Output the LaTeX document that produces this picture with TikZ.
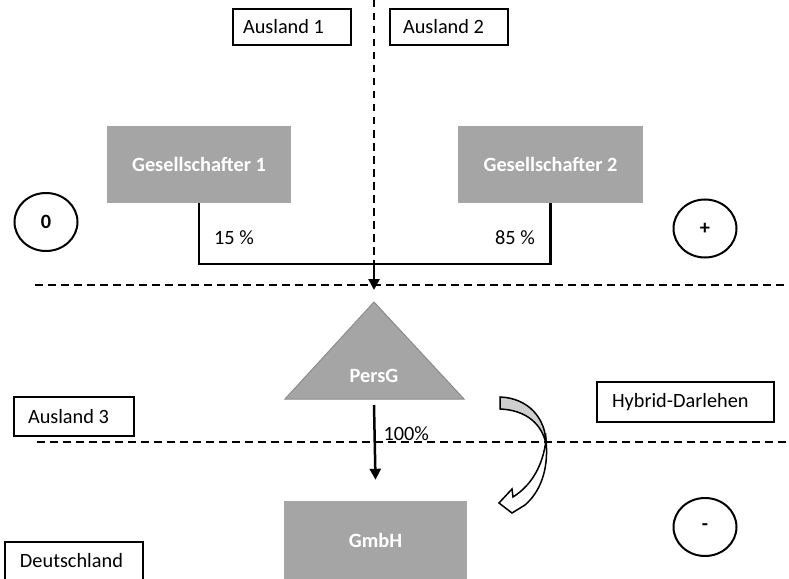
\documentclass[tikz,border=0pt]{standalone}
\usepackage{fontspec}
\setmainfont{Carlito}
\usetikzlibrary{arrows.meta,shapes.geometric}
\definecolor{boxgray}{HTML}{A5A5A5}
\definecolor{tribord}{HTML}{8C8C8C}
\definecolor{arrowgray}{HTML}{CFCFCF}
\begin{document}
\begin{tikzpicture}[x=1bp,y=-1bp,
  txt/.style={font=\fontsize{20.3bp}{24bp}\selectfont},
  labelbox/.style={txt,draw=black,line width=1.2bp,fill=white,inner ysep=0,inner xsep=13bp,minimum height=36bp},
  entity/.style={fill=boxgray,text=white,font=\fontsize{20.3bp}{24bp}\selectfont\bfseries,inner sep=0},
  zone/.style={ellipse,draw=black,line width=2bp,minimum width=63bp,minimum height=58bp,inner sep=0,font=\fontsize{20.3bp}{24bp}\selectfont\bfseries},
  divider/.style={line width=2bp,dash pattern=on 7.5bp off 5.5bp},
  link/.style={line width=2.5bp},
  tip/.style={-{Triangle[length=11bp,width=11bp]}}
]
\clip (0,0) rectangle (789,579);
\fill[white] (0,0) rectangle (789,579);

% dividers
\coordinate (vtop) at (374,0);
\coordinate (j) at (374,264);
\coordinate (hl1) at (35,285);
\coordinate (hr1) at (789,285);
\coordinate (hl2) at (37,442);
\coordinate (hr2) at (789,442);
\draw[divider] (vtop) -- (j);
\draw[divider] (hl1) -- (hr1);
\draw[divider] (hl2) -- (hr2);

% country labels
\node[labelbox,inner xsep=10bp] (a1) at (292,27) {\makebox[98bp][l]{Ausland 1}};
\node[labelbox] (a2) at (449,27) {\makebox[92bp][l]{Ausland 2}};
\node[labelbox,inner xsep=14bp,minimum height=39bp] (a3) at (74,416.5) {\makebox[92bp][l]{Ausland 3}};
\node[labelbox,inner xsep=15bp,minimum height=40bp] (hd) at (685.5,402) {\makebox[147bp][l]{Hybrid-Darlehen}};
\node[labelbox,inner xsep=15bp,minimum height=44bp] (de) at (74,564) {\raisebox{7bp}{\makebox[108bp][l]{Deutschland}}};

% entities
\node[entity,minimum width=184bp,minimum height=77bp] (g1) at (199,164.5) {Gesellschafter 1};
\node[entity,minimum width=185bp,minimum height=77bp] (g2) at (550.5,164.5) {Gesellschafter 2};
\node[entity,minimum width=183bp,minimum height=78bp] (gmbh) at (375.5,540) {GmbH};

% PersG triangle
\coordinate (tapex) at (374,302);
\coordinate (tbl) at (285,399);
\coordinate (tbr) at (464,399);
\coordinate (tbase) at (374,399);
\fill[boxgray,draw=tribord,line width=1bp] (tapex) -- (tbr) -- (tbl) -- cycle;
\node[entity,fill=none] (persg) at (374,376) {PersG};

% zones
\node[zone] (z0) at (46,222) {0};
\node[zone] (zp) at (705,228.5) {+};
\node[zone] (zm) at (705,527) {-};

% ownership links
\draw[link] (g1.south) |- (j) -| (g2.south);
\draw[link,tip] (j) -- ([yshift=12bp]tapex);
\node[txt] (p15) at (234,238) {15 \%};
\node[txt] (p85) at (515,238) {85 \%};
\draw[link,tip] ([yshift=-6bp]tbase) -- ([yshift=21bp]gmbh.north);
\node[txt,anchor=west] (p100) at (380,434) {100\%};

% curved arrow (hybrid loan)
\filldraw[fill=arrowgray,draw=black,line width=1.5bp]
  (500,397) .. controls (528,398) and (546,418) .. (546,444)
  .. controls (542,424) and (526,410) .. (500,409) -- cycle;
\filldraw[fill=white,draw=black,line width=1.5bp]
  (546,440) .. controls (549,470) and (540,492) .. (525,505)
  -- (512,513) -- (499,503) -- (512,489) -- (513,497)
  .. controls (532,485) and (543,465) .. (546,440) -- cycle;
\end{tikzpicture}
\end{document}
